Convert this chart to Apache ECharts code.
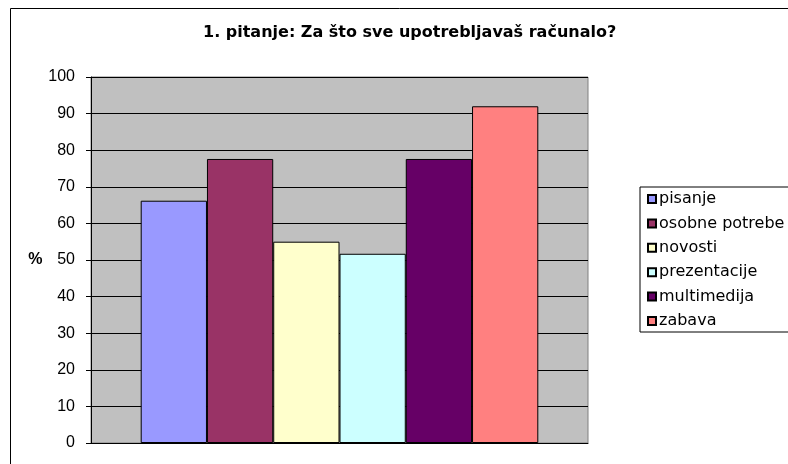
<!DOCTYPE html>
<html>
<head>
<meta charset="utf-8">
<script src="https://cdn.jsdelivr.net/npm/echarts@6/dist/echarts.min.js"></script>
<style>
  html, body { margin: 0; padding: 0; background: #fff; }
  #chart { width: 788px; height: 464px; }
</style>
</head>
<body>
<div id="chart"></div>
<script>
var seriesNames = ['pisanje', 'osobne potrebe', 'novosti', 'prezentacije', 'multimedija', 'zabava'];
var seriesValues = [66.2, 77.6, 55.0, 51.7, 77.6, 92.0];
var seriesColors = ['#9999FF', '#993366', '#FFFFCC', '#CCFFFF', '#660066', '#FF8080'];
var categories = [''];

var arial = 'Arial, "Liberation Sans", sans-serif';
var wide = '"DejaVu Sans", sans-serif';
var myChart = echarts.init(document.getElementById('chart'));

var series = seriesNames.map(function(name, i) {
    return {
        name: name,
        type: 'bar',
        data: [seriesValues[i]],
        barGap: '0%',
        barCategoryGap: '20%',
        itemStyle: {
            color: seriesColors[i],
            borderColor: '#000',
            borderWidth: 1
        }
    };
});

var option = {
    animation: false,
    backgroundColor: '#fff',
    title: {
        text: '1. pitanje: Za što sve upotrebljavaš računalo?',
        left: 198,
        top: 20,
        textStyle: {
            fontFamily: wide,
            fontSize: 16,
            fontWeight: 'bold',
            color: '#000'
        }
    },
    legend: {
        orient: 'vertical',
        left: 640,
        top: 187,
        padding: [4, 60, 3, 7],
        itemWidth: 8,
        itemHeight: 8,
        itemGap: 8.4,
        borderColor: '#000',
        borderWidth: 1,
        icon: 'rect',
        data: seriesNames,
        textStyle: {
            fontFamily: wide,
            fontSize: 16,
            lineHeight: 16,
            color: '#000',
            padding: [0, 0, 0, -2]
        }
    },
    grid: {
        left: 91,
        top: 77,
        width: 497,
        height: 366,
        show: true,
        backgroundColor: '#C0C0C0',
        borderColor: '#808080',
        borderWidth: 1
    },
    xAxis: {
        type: 'category',
        data: categories,
        axisLine: { lineStyle: { color: '#000' } },
        axisTick: { show: false },
        axisLabel: { show: false }
    },
    yAxis: {
        type: 'value',
        min: 0,
        max: 100,
        interval: 10,
        name: '%',
        nameLocation: 'middle',
        nameRotate: 0,
        nameGap: 48,
        nameTextStyle: {
            fontFamily: arial,
            fontSize: 16,
            fontWeight: 'bold',
            color: '#000'
        },
        axisLine: { show: true, lineStyle: { color: '#000' } },
        axisTick: { show: true, length: 5, lineStyle: { color: '#000' } },
        axisLabel: {
            fontFamily: arial,
            fontSize: 16,
            color: '#000',
            margin: 16
        },
        splitLine: { show: true, lineStyle: { color: '#000', width: 1 } }
    },
    graphic: [{
        type: 'rect',
        left: 8,
        top: 6,
        shape: { width: 900, height: 600 },
        style: { fill: 'none', stroke: '#000', lineWidth: 1 },
        silent: true
    }],
    series: series
};

myChart.setOption(option);
</script>
</body>
</html>
